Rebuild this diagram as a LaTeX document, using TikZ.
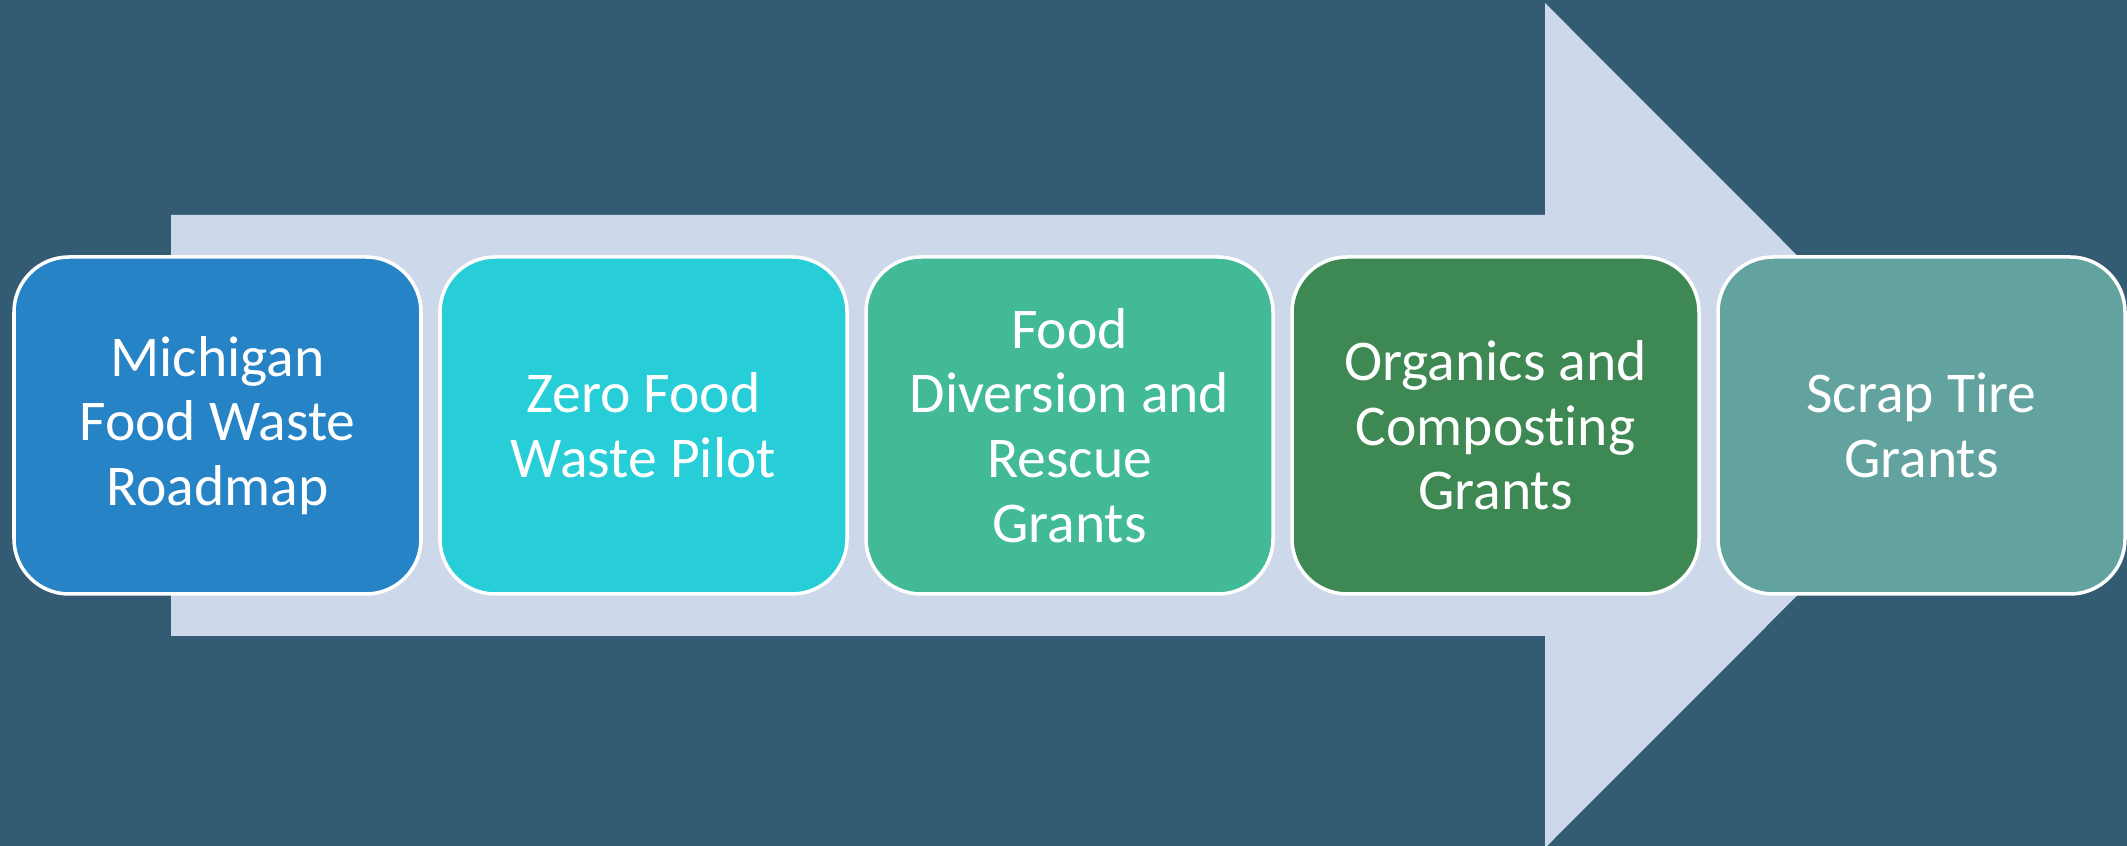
\documentclass[tikz,border=0pt]{standalone}
\usepackage{fontspec}
\setmainfont{Carlito}[Ligatures=NoCommon]
\usetikzlibrary{positioning}

\definecolor{bgblue}{HTML}{335B74}
\definecolor{arrowgray}{HTML}{CDD8EA}
\definecolor{stageA}{HTML}{2683C6}
\definecolor{stageB}{HTML}{27CED7}
\definecolor{stageC}{HTML}{42BA97}
\definecolor{stageD}{HTML}{3E8853}
\definecolor{stageE}{HTML}{62A39F}

\tikzset{
  stage/.style={draw=white, line width=1pt, rounded corners=0.55cm,
    minimum width=4.07cm, minimum height=3.37cm, inner sep=0pt, outer sep=0pt,
    align=center, text=white,
    font=\fontsize{16.4pt}{18.4pt}\selectfont}
}

\begin{document}
\begin{tikzpicture}[node distance=0.19cm]
%\draw[help lines] (0,0) grid (21,8);
\fill[bgblue] (0,0) rectangle (21.27,8.46);
\useasboundingbox (0,0) rectangle (21.27,8.46);
% big arrow behind the stages
\fill[arrowgray] (1.71,6.31)--(15.45,6.31)--(15.45,8.43)--(19.67,4.205)--(15.45,-0.02)--(15.45,2.10)--(1.71,2.10)--cycle;
\node[stage,fill=stageA] (roadmap) at (2.175,4.205) {Michigan\\Food Waste\\Roadmap};
\node[stage,fill=stageB,right=of roadmap] (pilot) {Zero Food\\Waste Pilot};
\node[stage,fill=stageC,right=of pilot] (rescue) {Food\\Diversion and\\Rescue\\Grants};
\node[stage,fill=stageD,right=of rescue] (compost) {Organics and\\Composting\\Grants};
\node[stage,fill=stageE,right=of compost] (tire) {Scrap Tire\\Grants};
\end{tikzpicture}
\end{document}
